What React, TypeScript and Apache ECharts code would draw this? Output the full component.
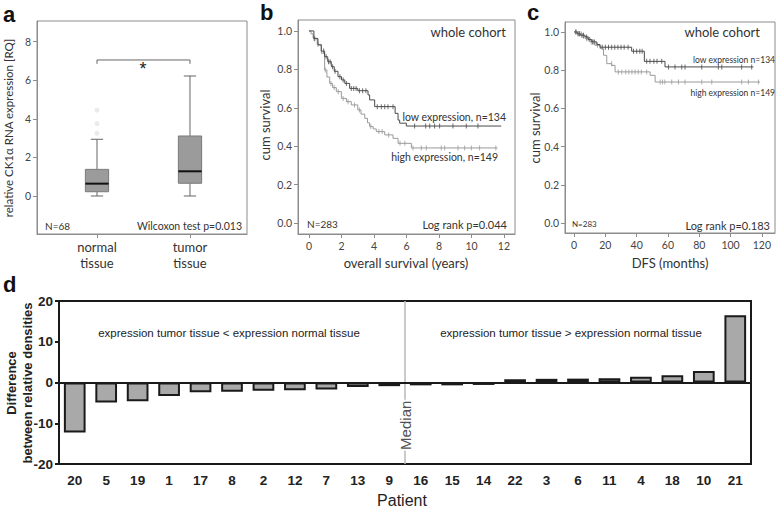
import React, { useEffect, useRef } from "react";
import * as echarts from "echarts";

// ---------- Panel a: box plots ----------
const boxCategories = ["normal\ntissue", "tumor\ntissue"];
// [min, q1, median, q3, max]
const normalStats = [0.0, 0.22, 0.64, 1.38, 2.94];
const tumorStats = [0.0, 0.66, 1.28, 3.11, 6.22];
const normalOutliers = [3.25, 3.75, 4.45];
const aYTicks = [0, 2, 4, 6, 8];

// ---------- Panel b: overall survival (years) ----------
const osLowTime = [0, 0.3, 0.55, 0.75, 0.96, 1.15, 1.37, 1.55, 1.78, 2.0, 2.2, 2.5, 3.0, 3.63, 3.73, 4.04, 5.3, 5.48, 5.58, 5.99, 11.83];
const osLowSurv = [1.0, 0.96, 0.927, 0.895, 0.866, 0.84, 0.814, 0.79, 0.762, 0.745, 0.727, 0.701, 0.689, 0.667, 0.641, 0.606, 0.571, 0.536, 0.52, 0.505, 0.505];
const osHighTime = [0, 0.12, 0.25, 0.5, 0.76, 0.96, 1.1, 1.27, 1.45, 1.68, 1.99, 2.3, 2.6, 3.0, 3.2, 3.43, 3.6, 3.73, 3.95, 4.14, 4.66, 5.17, 5.48, 6.3, 11.6];
const osHighSurv = [1.0, 0.985, 0.962, 0.93, 0.884, 0.797, 0.76, 0.727, 0.705, 0.684, 0.649, 0.632, 0.615, 0.589, 0.567, 0.545, 0.522, 0.502, 0.49, 0.476, 0.459, 0.441, 0.415, 0.391, 0.391];
const osLowCensor = [0.35, 0.9, 1.05, 1.2, 1.3, 1.45, 1.6, 1.9, 2.1, 2.3, 2.6, 2.75, 2.9, 3.1, 3.3, 3.5, 4.2, 4.45, 4.66, 4.86, 5.17, 6.5, 7.18, 7.43, 7.73, 8.04, 8.86, 9.68, 10.4];
const osHighCensor = [0.3, 0.55, 1.0, 1.35, 1.55, 1.8, 2.1, 2.4, 2.8, 3.1, 3.8, 4.3, 4.5, 4.9, 5.6, 5.9, 6.4, 6.91, 7.22, 8.14, 8.35, 9.17, 9.58, 9.99, 10.5, 11.5];
const bXTicks = [0, 2, 4, 6, 8, 10, 12];
const survTicks = [0, 0.2, 0.4, 0.6, 0.8, 1.0];

// ---------- Panel c: DFS (months) ----------
const dfsLowTime = [0, 2, 4, 7, 9, 11.3, 14.5, 16.6, 36.8, 44.9, 58.1, 114.6];
const dfsLowSurv = [1.0, 0.99, 0.983, 0.974, 0.96, 0.948, 0.934, 0.92, 0.899, 0.846, 0.817, 0.817];
const dfsHighTime = [0, 3, 5, 7, 10, 13.4, 16.6, 18.8, 20.9, 24.1, 26.2, 48.6, 51.8, 118.9];
const dfsHighSurv = [1.0, 0.99, 0.978, 0.965, 0.948, 0.93, 0.913, 0.878, 0.834, 0.825, 0.791, 0.773, 0.738, 0.738];
const dfsLowCensor = [1, 2.5, 3.5, 5, 6, 8, 10, 12, 13, 18, 20, 22, 24, 26, 28, 30, 32, 34.5, 38, 40, 42, 43.5, 46.4, 48.5, 51, 53, 56, 60.3, 64.5, 68.8, 70.9, 81.6, 92.2, 94.4, 107.1, 113.5];
const dfsHighCensor = [1.5, 3, 4.5, 6, 8, 9, 11, 12, 15, 24, 28.3, 30.5, 33, 35, 37, 39, 41, 43, 46.4, 55, 56.5, 58, 62.4, 66.7, 70.9, 81.6, 88, 107.1, 111.4, 117.8];
const cXTicks = [0, 20, 40, 60, 80, 100, 120];

// ---------- Panel d: differences per patient ----------
const patients = ["20", "5", "19", "1", "17", "8", "2", "12", "7", "13", "9", "16", "15", "14", "22", "3", "6", "11", "4", "18", "10", "21"];
const diffs = [-12.3, -4.9, -4.6, -3.3, -2.4, -2.3, -2.0, -1.9, -1.7, -1.1, -0.9, -0.7, -0.7, -0.6, 0.8, 0.9, 0.95, 1.05, 1.4, 1.8, 2.85, 16.5];
const medianPosition = 11;

const SANS = "Lato, 'Open Sans', sans-serif";
const ARIAL = "'Liberation Sans', Arial, sans-serif";
const FRAME = "#8c8c8c";
const LOW = "#4a4a4a";
const HIGH = "#9a9a9a";

function pairs(t: number[], s: number[]) {
  return t.map((v, i) => [v, s[i]]);
}
function survAt(t: number[], s: number[], x: number) {
  let v = s[0];
  for (let i = 0; i < t.length; i++) if (t[i] <= x) v = s[i];
  return v;
}
function censorPts(c: number[], t: number[], s: number[]) {
  return c.map((x) => [x, survAt(t, s, x)]);
}

function valueAxis(gridIndex: number, min: number, max: number, ticks: number[], fmt: (v: number) => string, fontSize: number, extra: any = {}) {
  return {
    type: "value",
    gridIndex,
    min,
    max,
    axisLine: { show: true, onZero: false, lineStyle: { color: FRAME, width: 1 } },
    splitLine: { show: false },
    axisTick: { show: true, customValues: ticks, length: 4, lineStyle: { color: FRAME } },
    axisLabel: { customValues: ticks, formatter: fmt, fontSize, color: "#444", fontFamily: SANS, margin: 6, ...extra },
  };
}

export default function App() {
  const ref = useRef<HTMLDivElement>(null);
  useEffect(() => {
    document.body.style.margin = "0";
    if (!ref.current) return;
    const chart = echarts.init(ref.current, undefined, { renderer: "svg" });

    const txt = (text: string, x: number, y: number, o: any = {}) => ({
      type: "text",
      x,
      y,
      rotation: o.rotation || 0,
      style: {
        text,
        fontSize: o.size || 11,
        fontFamily: o.family || SANS,
        fontWeight: o.weight || "normal",
        fill: o.color || "#333",
        align: o.align || "left",
        verticalAlign: "middle",
      },
    });

    const option: any = {
      animation: false,
      backgroundColor: "#fff",
      grid: [
        { left: 37, top: 21, width: 210, height: 213, show: true, borderColor: FRAME, borderWidth: 1 },
        { left: 298, top: 20, width: 217, height: 214, show: true, borderColor: FRAME, borderWidth: 1 },
        { left: 565, top: 22, width: 210, height: 211, show: true, borderColor: FRAME, borderWidth: 1 },
        { left: 59, top: 301, width: 692, height: 163, show: true, borderColor: "#1a1a1a", borderWidth: 2 },
      ],
      xAxis: [
        valueAxis(0, 0.355, 2.613, [1, 2], (v: number) => boxCategories[Math.round(v) - 1], 13, { lineHeight: 16, color: "#333", margin: 5 }),
        valueAxis(1, -0.68, 12.68, bXTicks, (v: number) => String(v), 10.5),
        valueAxis(2, -5.8, 128.4, cXTicks, (v: number) => String(v), 10.5),
        {
          type: "category",
          gridIndex: 3,
          data: patients,
          axisLine: { show: true, onZero: false, lineStyle: { color: "#1a1a1a", width: 2 } },
          axisTick: { show: false },
          axisLabel: { fontSize: 13.5, fontWeight: "bold", fontFamily: ARIAL, color: "#222", margin: 9, interval: 0 },
        },
        { type: "value", gridIndex: 3, min: 0, max: patients.length, show: false },
      ],
      yAxis: [
        valueAxis(0, -1.97, 9.07, aYTicks, (v: number) => String(v), 10.5),
        valueAxis(1, -0.057, 1.057, survTicks, (v: number) => v.toFixed(1), 10.5),
        valueAxis(2, -0.052, 1.052, survTicks, (v: number) => v.toFixed(1), 10.5),
        {
          type: "value",
          gridIndex: 3,
          min: -20,
          max: 20,
          interval: 10,
          axisLine: { show: true, onZero: false, lineStyle: { color: "#1a1a1a", width: 2 } },
          axisTick: { show: true, length: 4, lineStyle: { color: "#1a1a1a", width: 2 } },
          splitLine: { show: false },
          axisLabel: { fontSize: 13.5, fontWeight: "bold", fontFamily: ARIAL, color: "#222", margin: 6 },
        },
      ],
      series: [
        // ---- panel a ----
        {
          type: "custom",
          xAxisIndex: 0,
          yAxisIndex: 0,
          data: [[1, ...normalStats], [2, ...tumorStats]],
          renderItem: (params: any, api: any) => {
            const x = api.value(0);
            const lo = api.coord([x, api.value(1)]);
            const q1 = api.coord([x, api.value(2)]);
            const md = api.coord([x, api.value(3)]);
            const q3 = api.coord([x, api.value(4)]);
            const hi = api.coord([x, api.value(5)]);
            const half = api.size([0.25, 0])[0] / 2;
            const cap = half * 0.53;
            const ls = { stroke: "#666", lineWidth: 1 };
            return {
              type: "group",
              children: [
                { type: "line", shape: { x1: hi[0], y1: hi[1], x2: q3[0], y2: q3[1] }, style: ls },
                { type: "line", shape: { x1: lo[0], y1: lo[1], x2: q1[0], y2: q1[1] }, style: ls },
                { type: "line", shape: { x1: hi[0] - cap, y1: hi[1], x2: hi[0] + cap, y2: hi[1] }, style: ls },
                { type: "line", shape: { x1: lo[0] - cap, y1: lo[1], x2: lo[0] + cap, y2: lo[1] }, style: ls },
                {
                  type: "rect",
                  shape: { x: q1[0] - half, y: q3[1], width: half * 2, height: q1[1] - q3[1] },
                  style: { fill: "#9b9b9b", stroke: "#7a7a7a", lineWidth: 1 },
                },
                { type: "line", shape: { x1: md[0] - half, y1: md[1], x2: md[0] + half, y2: md[1] }, style: { stroke: "#111", lineWidth: 2 } },
              ],
            };
          },
        },
        {
          type: "scatter",
          xAxisIndex: 0,
          yAxisIndex: 0,
          data: normalOutliers.map((v) => [1, v]),
          symbolSize: 5,
          itemStyle: { color: "#e6e6e6" },
        },
        {
          type: "line",
          xAxisIndex: 0,
          yAxisIndex: 0,
          data: [[1, 6.85], [1, 7.05], [2, 7.05], [2, 6.85]],
          showSymbol: false,
          itemStyle: { color: "#666" },
          lineStyle: { color: "#666", width: 1 },
        },
        // ---- panel b ----
        { type: "line", xAxisIndex: 1, yAxisIndex: 1, step: "end", data: pairs(osHighTime, osHighSurv), showSymbol: false, itemStyle: { color: HIGH }, lineStyle: { color: HIGH, width: 1 } },
        { type: "line", xAxisIndex: 1, yAxisIndex: 1, step: "end", data: pairs(osLowTime, osLowSurv), showSymbol: false, itemStyle: { color: LOW }, lineStyle: { color: LOW, width: 1 } },
        { type: "scatter", xAxisIndex: 1, yAxisIndex: 1, data: censorPts(osHighCensor, osHighTime, osHighSurv), symbol: "rect", symbolSize: [1, 5], itemStyle: { color: HIGH } },
        { type: "scatter", xAxisIndex: 1, yAxisIndex: 1, data: censorPts(osLowCensor, osLowTime, osLowSurv), symbol: "rect", symbolSize: [1, 5], itemStyle: { color: LOW } },
        // ---- panel c ----
        { type: "line", xAxisIndex: 2, yAxisIndex: 2, step: "end", data: pairs(dfsHighTime, dfsHighSurv), showSymbol: false, itemStyle: { color: HIGH }, lineStyle: { color: HIGH, width: 1 } },
        { type: "line", xAxisIndex: 2, yAxisIndex: 2, step: "end", data: pairs(dfsLowTime, dfsLowSurv), showSymbol: false, itemStyle: { color: LOW }, lineStyle: { color: LOW, width: 1 } },
        { type: "scatter", xAxisIndex: 2, yAxisIndex: 2, data: censorPts(dfsHighCensor, dfsHighTime, dfsHighSurv), symbol: "rect", symbolSize: [1, 5], itemStyle: { color: HIGH } },
        { type: "scatter", xAxisIndex: 2, yAxisIndex: 2, data: censorPts(dfsLowCensor, dfsLowTime, dfsLowSurv), symbol: "rect", symbolSize: [1, 5], itemStyle: { color: LOW } },
        // ---- panel d ----
        {
          type: "line",
          xAxisIndex: 4,
          yAxisIndex: 3,
          data: [[medianPosition, -20], [medianPosition, 20]],
          showSymbol: false,
          itemStyle: { color: "#b8b8b8" },
          lineStyle: { color: "#b8b8b8", width: 1.5 },
          z: 1,
        },
        {
          type: "bar",
          xAxisIndex: 3,
          yAxisIndex: 3,
          data: diffs,
          barCategoryGap: "31%",
          itemStyle: { color: "#a9a9a9", borderColor: "#1a1a1a", borderWidth: 2 },
          markLine: {
            silent: true,
            symbol: "none",
            label: { show: false },
            lineStyle: { color: "#1a1a1a", width: 2, type: "solid" },
            data: [{ yAxis: 0 }],
          },
          z: 3,
        },
        {
          type: "scatter",
          xAxisIndex: 4,
          yAxisIndex: 3,
          data: [[medianPosition, -10.5]],
          symbolSize: 0,
          itemStyle: { color: "#fff" },
          label: {
            show: true,
            position: "inside",
            formatter: "Median",
            rotate: 90,
            fontSize: 15,
            fontFamily: ARIAL,
            color: "#222",
            backgroundColor: "#fff",
            padding: [0, 1],
          },
          z: 4,
        },
      ],
      graphic: [
        txt("a", 3, 14, { size: 22, weight: "bold", family: ARIAL, color: "#111" }),
        txt("b", 260, 12, { size: 22, weight: "bold", family: ARIAL, color: "#111" }),
        txt("c", 527, 12, { size: 22, weight: "bold", family: ARIAL, color: "#111" }),
        txt("d", 3, 284, { size: 22, weight: "bold", family: ARIAL, color: "#111" }),
        // panel a
        txt("relative CK1α RNA expression [RQ]", 8, 128, { size: 11.5, align: "center", rotation: Math.PI / 2 }),
        txt("N=68", 45, 226, { size: 10 }),
        txt("Wilcoxon test p=0.013", 242, 226, { size: 10.5, align: "right" }),
        txt("*", 143, 69, { size: 18, align: "center", family: ARIAL, color: "#222222" }),
        // panel b
        txt("cum survival", 265, 125, { size: 13, align: "center", rotation: Math.PI / 2 }),
        txt("overall survival (years)", 406, 263, { size: 13, align: "center" }),
        txt("whole cohort", 506, 32, { size: 13, align: "right" }),
        txt("low expression, n=134", 506, 117, { size: 10.5, align: "right" }),
        txt("high expression, n=149", 498, 157, { size: 10.5, align: "right" }),
        txt("N=283", 307, 224, { size: 10 }),
        txt("Log rank p=0.044", 507, 224, { size: 11, align: "right" }),
        // panel c
        txt("cum survival", 535, 128, { size: 13, align: "center", rotation: Math.PI / 2 }),
        txt("DFS (months)", 670, 263, { size: 13, align: "center" }),
        txt("whole cohort", 760, 32, { size: 13, align: "right" }),
        txt("low expression n=134", 775, 60, { size: 8.5, align: "right" }),
        txt("high expression n=149", 775, 93, { size: 8.5, align: "right" }),
        txt("N=283", 572, 224, { size: 8 }),
        txt("Log rank p=0.183", 770, 225, { size: 11, align: "right" }),
        // panel d
        txt("Difference", 11, 383, { size: 13, weight: "bold", family: ARIAL, align: "center", rotation: Math.PI / 2, color: "#222" }),
        txt("between relative densities", 27, 383, { size: 13, weight: "bold", family: ARIAL, align: "center", rotation: Math.PI / 2, color: "#222" }),
        txt("expression tumor tissue < expression normal tissue", 229, 333, { size: 11.5, family: ARIAL, align: "center", color: "#222" }),
        txt("expression tumor tissue > expression normal tissue", 571, 333, { size: 11.5, family: ARIAL, align: "center", color: "#222" }),
        txt("Patient", 402, 500, { size: 16, family: ARIAL, align: "center", color: "#222" }),
      ],
    };
    chart.setOption(option);
    return () => chart.dispose();
  }, []);
  return <div ref={ref} style={{ width: 778, height: 508 }} />;
}
